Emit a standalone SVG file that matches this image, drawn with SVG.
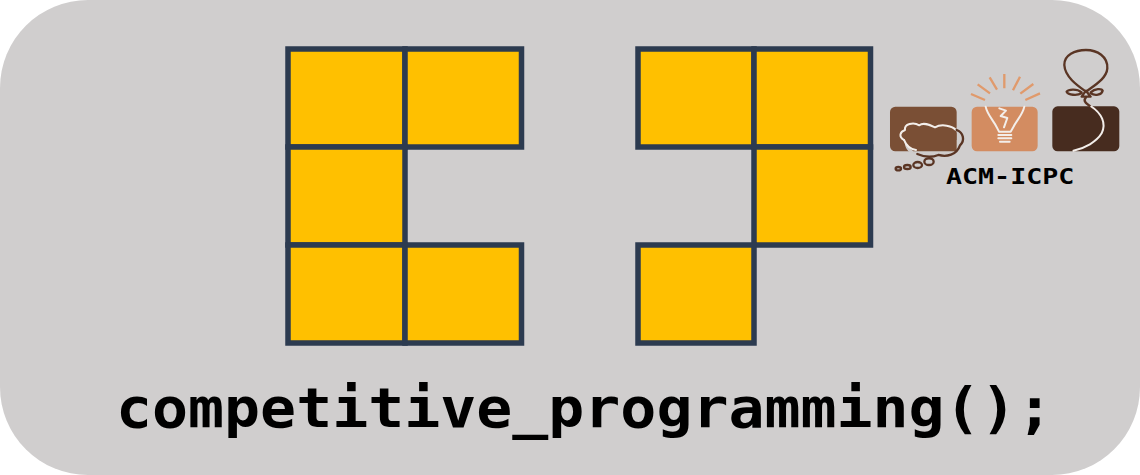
<svg xmlns="http://www.w3.org/2000/svg" width="1140" height="475" viewBox="0 0 1140 475">
<style>
.c{fill:#ffc000;stroke:#2c3b50;stroke-width:5.500}
.t{font-family:"DejaVu Sans Mono",monospace;font-weight:700;fill:#000}
.w{fill:none;stroke:#f3eeea;stroke-width:6;stroke-linejoin:round;stroke-linecap:round}
.b{fill:none;stroke:#5a3524;stroke-width:7;stroke-linejoin:round;stroke-linecap:round}
.o{fill:none;stroke:#e09a6c;stroke-width:7;stroke-linecap:butt}
</style>
<rect width="1140" height="475" fill="#fff"/>
<rect id="background" width="1140" height="475" rx="88" ry="88" fill="#d0cece"/>
<g id="letter-c">
<rect class="c" x="288" y="49" width="117" height="98"/>
<rect class="c" x="405" y="49" width="116.500" height="98"/>
<rect class="c" x="288" y="147" width="117" height="98"/>
<rect class="c" x="288" y="245" width="117" height="98"/>
<rect class="c" x="405" y="245" width="116.500" height="98"/>
</g>
<g id="letter-p">
<rect class="c" x="638" y="49" width="116" height="98"/>
<rect class="c" x="754" y="49" width="116.500" height="98"/>
<rect class="c" x="754" y="147" width="116.500" height="98"/>
<rect class="c" x="638" y="245" width="116" height="98"/>
</g>
<g id="acm-logo" transform="translate(880 40) scale(.3333)">
<g id="thought">
<rect x="30" y="200" width="200" height="134" rx="16" fill="#7a4f35"/>
<path d="M230 262C252 278 256 300 240 316C230 345 200 352 175 345C150 355 130 350 115 340C95 345 82 335 76 318L72 300L230 300Z" fill="#cfcccb"/>
<path d="M72 300C55 290 60 275 75 270C72 252 100 245 118 256C130 245 150 255 165 262C185 250 225 258 230 280V334H100C90 325 78 315 72 300Z" fill="#7a4f35"/>
<path class="w" d="M72 300C55 290 60 275 75 270C72 252 100 245 118 256C130 245 150 255 165 262C185 250 218 258 228 270"/>
<path class="w" d="M72 300C78 315 90 328 108 330"/>
<path class="b" d="M230 270C250 278 256 300 240 316C230 345 200 352 175 345C150 355 130 350 112 342"/>
<ellipse class="b" cx="147" cy="365" rx="14" ry="10"/>
<ellipse class="b" cx="113" cy="375" rx="13" ry="9"/>
<ellipse class="b" cx="82" cy="381" rx="10" ry="6"/>
<ellipse class="b" cx="55" cy="386" rx="8" ry="5"/>
</g>
<g id="bulb">
<rect x="275" y="200" width="198" height="134" rx="16" fill="#d38c61"/>
<path class="w" d="M317 200C322 225 340 240 352 265L357 275H392L398 265C410 240 428 225 433 200"/>
<path class="w" d="M358 205L378 212L362 228L382 234L372 262"/>
<path class="w" d="M355 285H394M355 295H394M360 305H389"/>
<path class="o" d="M273 162L315 180M293 133L330 160M329 112L351 149M373 102V145M420 110L399 151M460 132L421 161M480 160L436 180"/>
</g>
<g id="balloon">
<rect x="517" y="199" width="201" height="135" rx="16" fill="#472c1f"/>
<path class="b" d="M618 155C590 135 555 110 553 75C552 45 585 30 618 30C652 30 684 50 682 85C680 115 645 135 618 155Z"/>
<path class="b" d="M605 170L618 152L632 170Z" fill="#d0cece"/>
<path class="b" d="M605 157C590 145 565 148 560 155C565 165 590 168 605 160M632 157C645 145 665 145 668 152C665 165 645 168 632 160"/>
<path class="b" d="M618 172C605 185 625 195 640 205"/>
<path d="M632 198C665 220 680 250 665 280C650 305 615 325 578 333" fill="none" stroke="#f3eeea" stroke-width="6"/>
</g>
</g>
<text class="t" transform="translate(946 184) scale(1.3 1)" font-size="20.500">ACM-ICPC</text>
<text class="t" transform="translate(116 427) scale(1.088 1)" font-size="55">competitive_programming();</text>
</svg>
